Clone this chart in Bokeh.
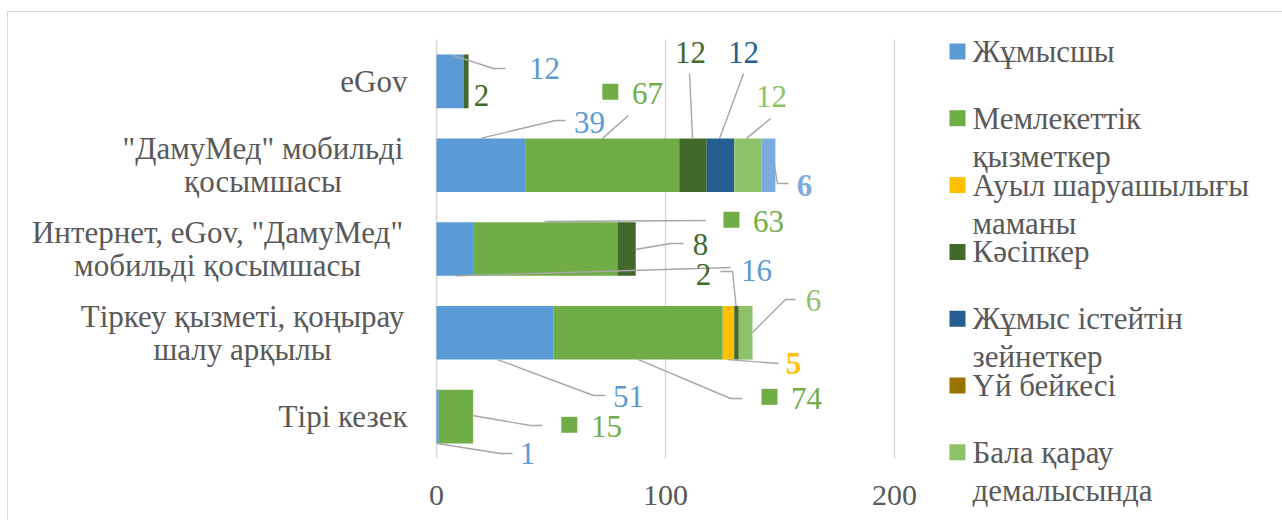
from bokeh.plotting import figure
from bokeh.models import Range1d, ColumnDataSource
from bokeh.layouts import row
from bokeh.core.properties import value
from bokeh.embed import file_html
from bokeh.resources import INLINE

# ---------------- data ----------------
categories = [
    'eGov',
    '"ДамуМед" мобильді қосымшасы',
    'Интернет, eGov, "ДамуМед" мобильді қосымшасы',
    'Тіркеу қызметі, қоңырау шалу арқылы',
    'Тірі кезек',
]
category_lines = [
    ['eGov'],
    ['"ДамуМед" мобильді', 'қосымшасы'],
    ['Интернет, eGov, "ДамуМед"', 'мобильді қосымшасы'],
    ['Тіркеу қызметі, қоңырау', 'шалу арқылы'],
    ['Тірі кезек'],
]
series_names = [
    'Жұмысшы',
    'Мемлекеттік қызметкер',
    'Ауыл шаруашылығы маманы',
    'Кәсіпкер',
    'Жұмыс істейтін зейнеткер',
    'Үй бейкесі',
    'Бала қарау демалысында',
    'Басқа',
]
zhumysshy = [12, 39, 16, 51, 1]
memlekettik = [0, 67, 63, 74, 15]
auyl = [0, 0, 0, 5, 0]
kasipker = [2, 12, 8, 2, 0]
zeinetker = [0, 12, 0, 0, 0]
ui_beikesi = [0, 0, 0, 0, 0]
bala_karau = [0, 12, 0, 6, 0]
baska = [0, 6, 0, 0, 0]
series_values = [zhumysshy, memlekettik, auyl, kasipker, zeinetker, ui_beikesi, bala_karau, baska]
x_ticks = [0, 100, 200]

# ---------------- style / layout ----------------
colors = ['#5B9BD5', '#70AD47', '#FFC000', '#43682B', '#255E91', '#997300', '#8CC269', '#7CACDD']
legend_count = 7
FONT = "Liberation Serif"
TXT = "#595959"
GRID = "#D9D9D9"
LEAD = "#A6A6A6"
FS_AX = "30px"
FS_CAT = "31px"
FS_LAB = "31px"

H = 508                 # figure height (page y 12..520)
TOP = 12                # page y of figure top
LBL_W, PLOT_W, LEG_W = 420, 500, 354
PLOT_LEFT = 8 + LBL_W   # page x where the plot figure starts
X0_PX = 436             # page x of value 0
PX_PER_X = 458 / 200
Y0_PX = 458             # page y of bottom of category band
PX_PER_Y = 419 / 5

n = len(categories)
y_start = (Y0_PX - (TOP + H)) / PX_PER_Y
y_end = (Y0_PX - TOP) / PX_PER_Y
cat_y = [n - 1 - i + 0.5 for i in range(n)]

# category label block centres (page x) for two-line labels; right edge for one-line labels
cat_block_center = [None, 262.5, 217, 242, None]
cat_right_edge = 407
cat_line_dy = 16.5

# label placements (category index, series index, label x, label y, marker, bold, leader xs, leader ys)
label_specs = [
    (0, 0, 47.2, 4.654, False, False, [6.1, 24.9, 30.1], [4.82, 4.654, 4.654]),
    (0, 3, 19.7, 4.332, False, False, None, None),
    (1, 0, 66.8, 4.010, False, False, [19.2, 52.0, 56.3], [3.82, 4.033, 4.033]),
    (1, 1, 92.1, 4.356, True, False, [72.5, 83.8], [3.82, 4.093]),
    (1, 3, 110.9, 4.845, False, False, [110.5, 111.8], [4.594, 3.82]),
    (1, 4, 134.1, 4.845, False, False, [134.1, 123.6], [4.594, 3.82]),
    (1, 6, 146.3, 4.320, False, False, [145.9, 135.4], [4.057, 3.82]),
    (1, 7, 160.7, 3.258, False, True, [147.6, 148.9, 153.7], [3.496, 3.282, 3.282]),
    (2, 1, 145.0, 2.828, True, False, [47.2, 117.5], [2.828, 2.840]),
    (2, 3, 115.3, 2.554, False, False, [86.9, 102.2, 107.9], [2.494, 2.566, 2.566]),
    (2, 0, 139.7, 2.243, False, False, [8.3, 128.4], [2.18, 2.279]),
    (3, 3, 116.6, 2.196, False, False, [124.0, 129.3, 130.8], [2.232, 2.232, 1.82]),
    (3, 6, 164.6, 1.885, False, False, [138.0, 152.4, 156.8], [1.504, 1.897, 1.897]),
    (3, 2, 155.9, 1.134, False, True, [127.1, 149.3], [1.18, 1.134]),
    (3, 0, 83.8, 0.740, False, False, [26.6, 68.6, 73.8], [1.18, 0.752, 0.752]),
    (3, 1, 161.6, 0.716, True, False, [88.2, 128.4, 133.6], [1.18, 0.716, 0.716]),
    (4, 1, 74.2, 0.382, True, False, [15.7, 41.0, 46.3], [0.513, 0.394, 0.394]),
    (4, 0, 39.7, 0.060, False, False, [0.4, 27.9, 33.2], [0.179, 0.060, 0.060]),
]


def bare(fig):
    fig.axis.visible = False
    fig.grid.grid_line_color = None
    fig.outline_line_color = None
    fig.border_fill_color = "white"
    fig.background_fill_color = "white"
    return fig


shared_y = Range1d(y_start, y_end)

# ---------------- category labels figure ----------------
lab_fig = bare(figure(width=LBL_W, height=H, x_range=Range1d(8, 8 + LBL_W), y_range=shared_y,
                      output_backend="svg", toolbar_location=None,
                      min_border_left=0, min_border_right=0, min_border_top=0, min_border_bottom=0))
s1 = dict(x=[], y=[], t=[])
s2 = dict(x=[], y=[], t=[])
for lines, cy, cc in zip(category_lines, cat_y, cat_block_center):
    if len(lines) == 1:
        s1["x"].append(cat_right_edge)
        s1["y"].append(cy)
        s1["t"].append(lines[0])
    else:
        for j, ln in enumerate(lines):
            s2["x"].append(cc)
            s2["y"].append(cy + (cat_line_dy - j * 2 * cat_line_dy) / PX_PER_Y)
            s2["t"].append(ln)
lab_fig.text("x", "y", text="t", source=ColumnDataSource(s1), text_align="right",
             text_baseline="middle", text_font=value(FONT), text_font_size=FS_CAT, text_color=TXT)
lab_fig.text("x", "y", text="t", source=ColumnDataSource(s2), text_align="center",
             text_baseline="middle", text_font=value(FONT), text_font_size=FS_CAT, text_color=TXT)

# ---------------- main plot ----------------
p = bare(figure(
    width=PLOT_W, height=H,
    x_range=Range1d((PLOT_LEFT - X0_PX) / PX_PER_X, (PLOT_LEFT + PLOT_W - X0_PX) / PX_PER_X),
    y_range=shared_y,
    output_backend="svg", toolbar_location=None,
    min_border_left=0, min_border_right=0, min_border_top=0, min_border_bottom=0,
))

# vertical gridlines (0 doubles as the category axis line)
p.segment(x0=x_ticks, y0=[0] * len(x_ticks), x1=x_ticks, y1=[n] * len(x_ticks),
          line_color=GRID, line_width=1.5)

keys = [f"s{i}" for i in range(len(series_names))]
data = {"y": cat_y, "cat": categories}
for k, vals in zip(keys, series_values):
    data[k] = vals
p.hbar_stack(keys, y="y", height=0.64, color=colors, line_color=None, source=ColumnDataSource(data))

# x tick labels
p.text(x=x_ticks, y=[(Y0_PX - 495) / PX_PER_Y] * len(x_ticks), text=[str(t) for t in x_ticks],
       text_align="center", text_baseline="middle", text_font=value(FONT),
       text_font_size=FS_AX, text_color=TXT)

# leader lines
lx, ly = [], []
for spec in label_specs:
    if spec[6] is not None:
        lx.append(spec[6])
        ly.append(spec[7])
p.multi_line(lx, ly, line_color=LEAD, line_width=1.4)

# marker squares
mx = [s[2] - 16.2 for s in label_specs if s[4]]
my = [s[3] + 0.02 for s in label_specs if s[4]]
mc = [colors[s[1]] for s in label_specs if s[4]]
p.scatter(mx, my, marker="square", size=16, color=mc, line_color=None)

# data labels
lab = dict(x=[], y=[], text=[], color=[], style=[])
for ci, si, x, y, mk, bold, _, _ in label_specs:
    lab["x"].append(x)
    lab["y"].append(y)
    lab["text"].append(str(series_values[si][ci]))
    lab["color"].append(colors[si])
    lab["style"].append("bold" if bold else "normal")
p.text("x", "y", text="text", source=ColumnDataSource(lab), text_color="color",
       text_font_style="style", text_font=value(FONT), text_font_size=FS_LAB,
       text_align="center", text_baseline="middle")

# ---------------- legend figure ----------------
leg = bare(figure(width=LEG_W, height=H, x_range=Range1d(PLOT_LEFT + PLOT_W, PLOT_LEFT + PLOT_W + LEG_W),
                  y_range=Range1d(TOP + H, TOP),
                  output_backend="svg", toolbar_location=None,
                  min_border_left=0, min_border_right=0, min_border_top=0, min_border_bottom=0))
step = 66.8
y0 = 51
sq_x, sq_y, sq_c = [], [], []
tx, ty, tt = [], [], []
for i in range(legend_count):
    name = series_names[i]
    yy = y0 + i * step
    sq_x.append(957)
    sq_y.append(yy)
    sq_c.append(colors[i])
    if len(name) > 12 and " " in name:
        a, b = name.rsplit(" ", 1)
        lines = [a, b]
    else:
        lines = [name]
    for j, ln in enumerate(lines):
        tx.append(972)
        ty.append(yy + j * 38)
        tt.append(ln)
leg.scatter(sq_x, sq_y, marker="square", size=16, color=sq_c, line_color=None)
leg.text(tx, ty, text=tt, text_font=value(FONT), text_font_size=FS_CAT, text_color=TXT,
         text_align="left", text_baseline="middle")

layout = row(lab_fig, p, leg, styles={"margin-left": "7px", "margin-top": "11px",
                                       "border-top": "1px solid #D9D9D9",
                                       "border-left": "1px solid #D9D9D9"})

open("out.html", "w").write(file_html(layout, INLINE))
